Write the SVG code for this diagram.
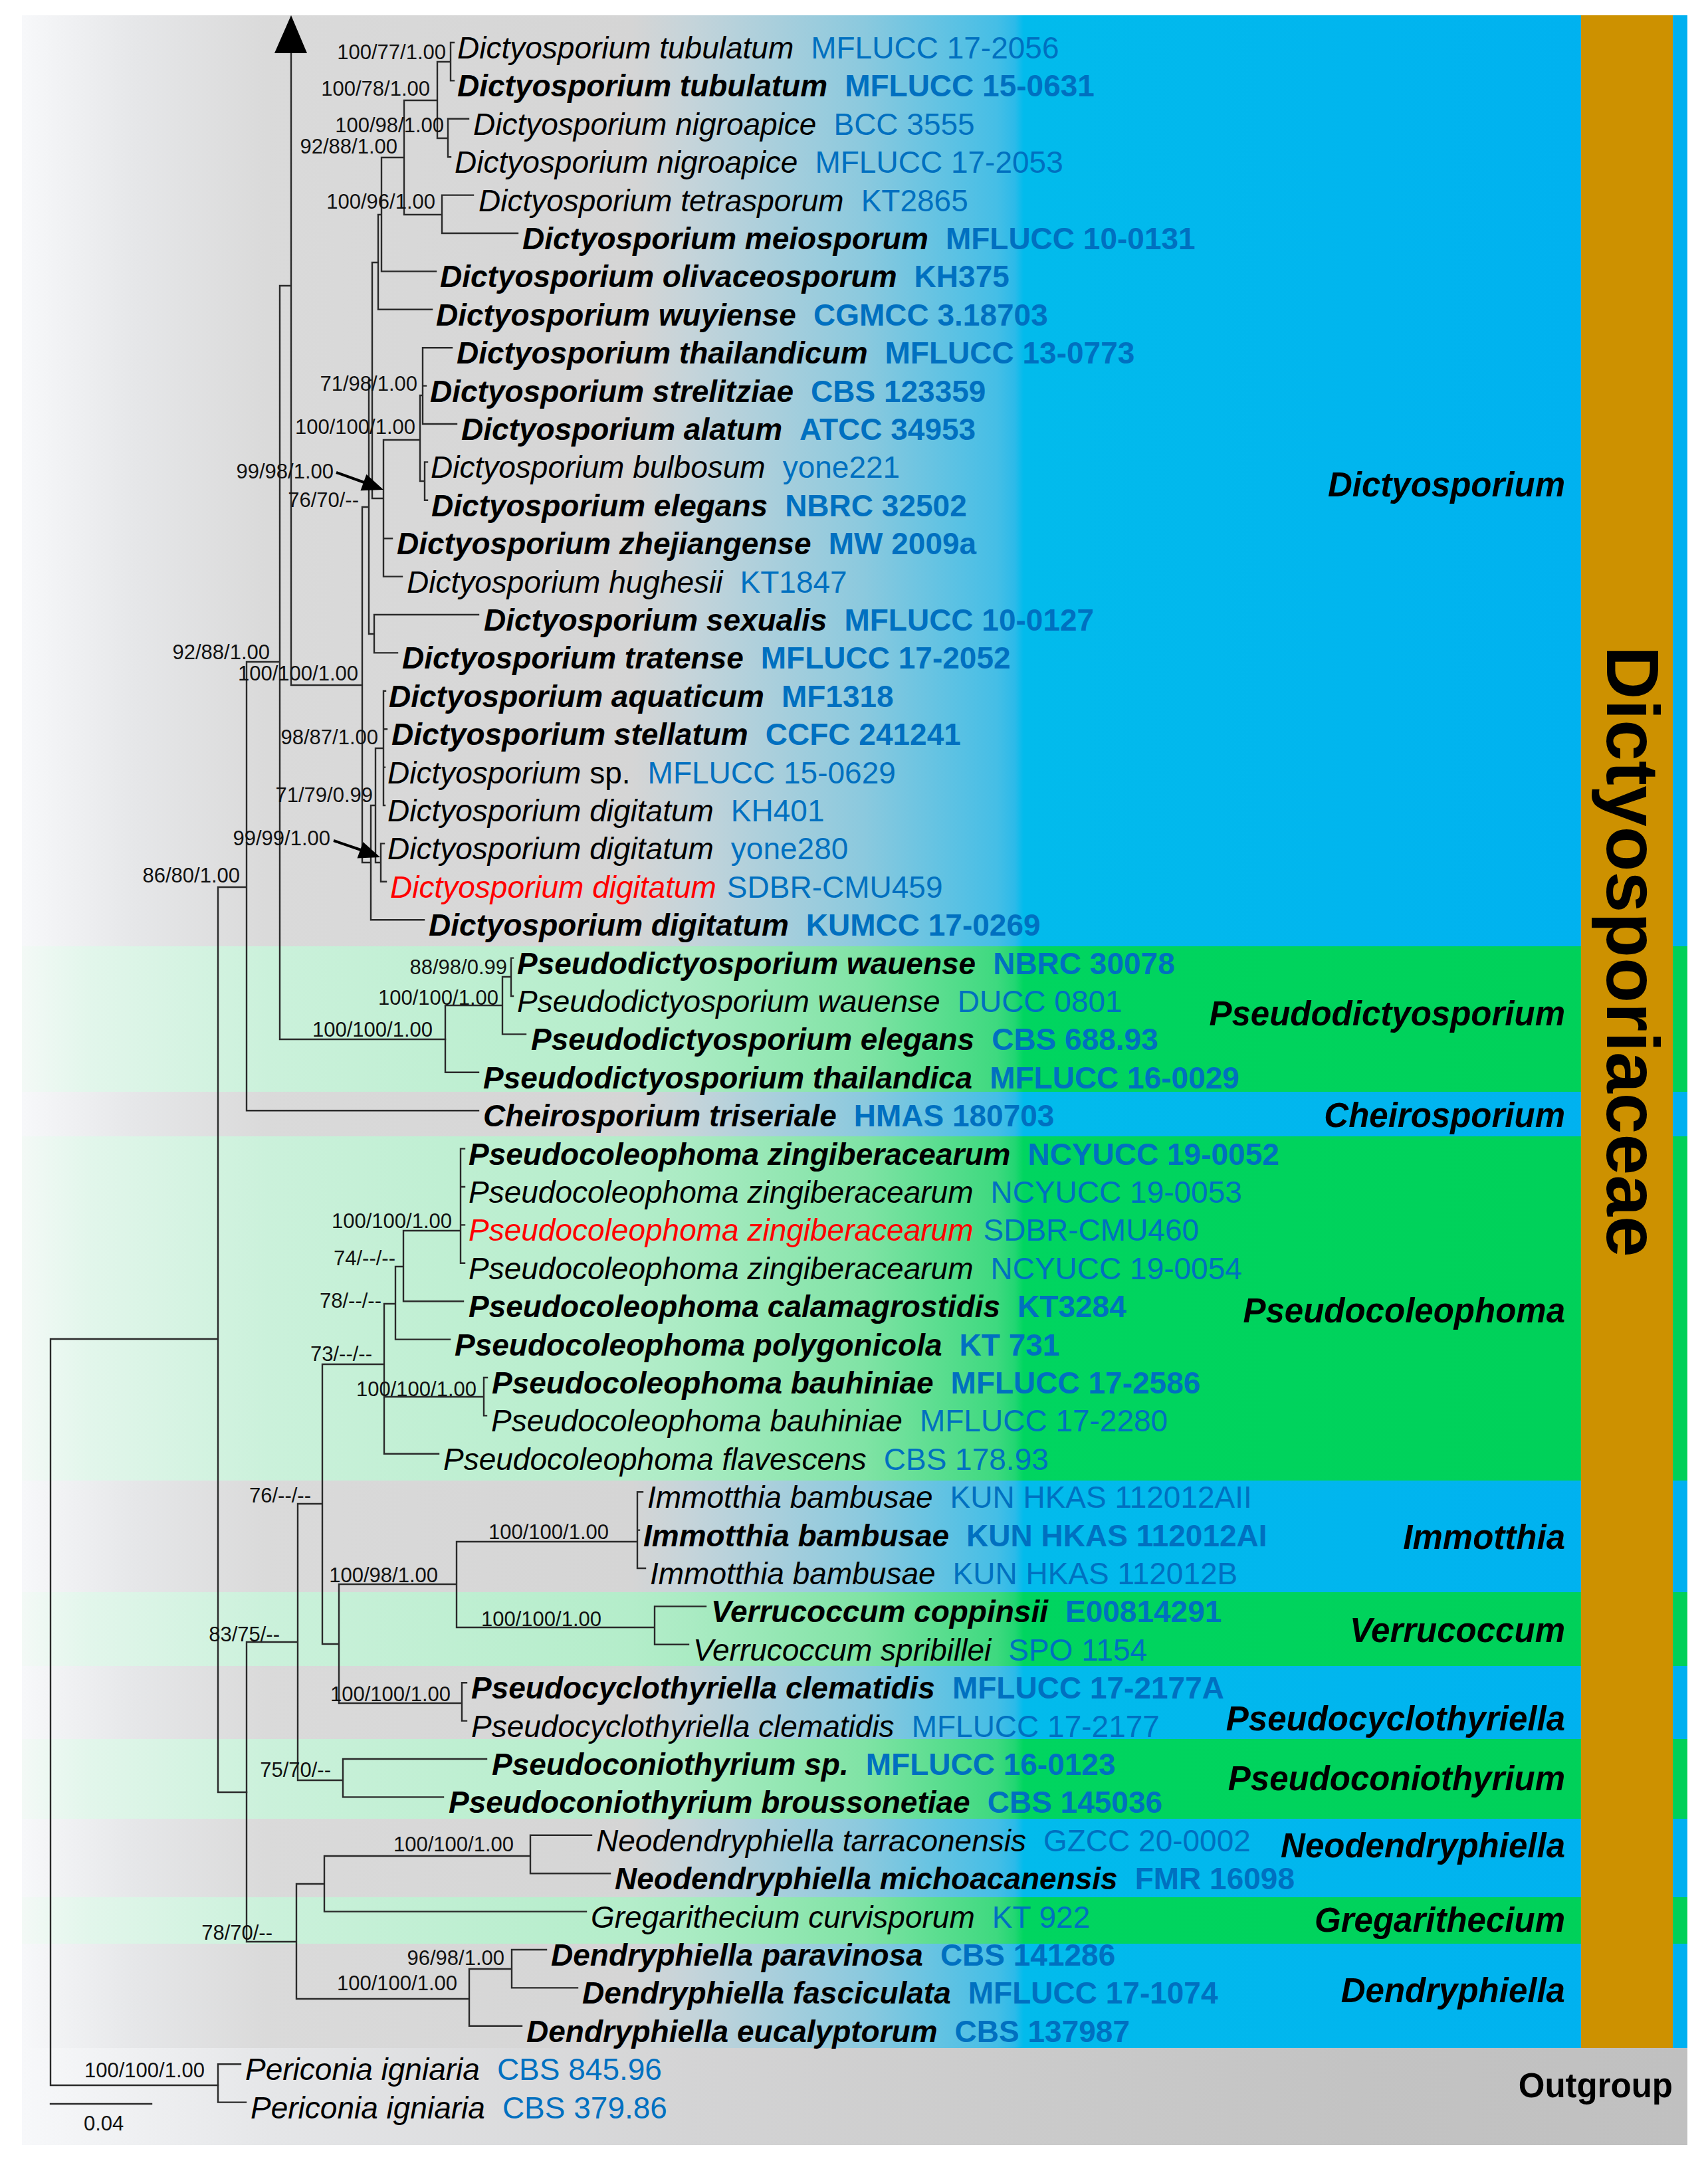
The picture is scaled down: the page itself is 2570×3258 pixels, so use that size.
<svg xmlns="http://www.w3.org/2000/svg" width="2570" height="3258" viewBox="0 0 2570 3258">
<style>
text{font-family:"Liberation Sans",Arial,sans-serif}
.t{font-size:46px;font-style:italic;fill:#000}
.b{font-weight:bold}
.a{font-style:normal;fill:#0070C0}
.r{fill:#FF0000}
.n{font-style:normal}
.bs{font-size:31px;fill:#111;text-anchor:end}
.g{font-size:51px;font-weight:bold;font-style:italic;text-anchor:end;fill:#000}
.br{fill:none;stroke:#2a2a2a;stroke-width:2.4;stroke-linecap:square}
</style>
<defs>
<linearGradient id="gb" gradientUnits="userSpaceOnUse" x1="33" y1="0" x2="2539" y2="0">
<stop offset="0" stop-color="#f7f8fa"/><stop offset="0.0666" stop-color="#e6e7e9"/><stop offset="0.1465" stop-color="#dadada"/><stop offset="0.366" stop-color="#d5d5d5"/><stop offset="0.4018" stop-color="#c5d4da"/><stop offset="0.5056" stop-color="#8bc9de"/><stop offset="0.5854" stop-color="#45bee6"/><stop offset="0.5962" stop-color="#2cbae9"/><stop offset="0.6014" stop-color="#02bbec"/><stop offset="1" stop-color="#00b0f0"/>
</linearGradient>
<linearGradient id="gg" gradientUnits="userSpaceOnUse" x1="33" y1="0" x2="2539" y2="0">
<stop offset="0" stop-color="#f3f9f6"/><stop offset="0.04" stop-color="#e2f6eb"/><stop offset="0.1465" stop-color="#cbf1db"/><stop offset="0.366" stop-color="#b4edca"/><stop offset="0.4018" stop-color="#aaebc3"/><stop offset="0.5056" stop-color="#80e3a5"/><stop offset="0.5854" stop-color="#3ed97f"/><stop offset="0.5962" stop-color="#22d672"/><stop offset="0.6014" stop-color="#00d560"/><stop offset="1" stop-color="#00d058"/>
</linearGradient>
<linearGradient id="go" gradientUnits="userSpaceOnUse" x1="33" y1="0" x2="2539" y2="0">
<stop offset="0" stop-color="#f7f8fa"/><stop offset="0.15" stop-color="#e5e6e8"/><stop offset="0.4" stop-color="#d4d4d5"/><stop offset="0.6" stop-color="#cbcbcb"/><stop offset="0.8" stop-color="#c3c3c3"/><stop offset="1" stop-color="#c0c0c0"/>
</linearGradient>
</defs>
<rect width="2570" height="3258" fill="#ffffff"/>
<g id="bands">
<rect x="33" y="23" width="2506" height="1401" fill="url(#gb)"/>
<rect x="33" y="1424" width="2506" height="219" fill="url(#gg)"/>
<rect x="33" y="1643" width="2506" height="67" fill="url(#gb)"/>
<rect x="33" y="1710" width="2506" height="518" fill="url(#gg)"/>
<rect x="33" y="2228" width="2506" height="168" fill="url(#gb)"/>
<rect x="33" y="2396" width="2506" height="111" fill="url(#gg)"/>
<rect x="33" y="2507" width="2506" height="110" fill="url(#gb)"/>
<rect x="33" y="2617" width="2506" height="120" fill="url(#gg)"/>
<rect x="33" y="2737" width="2506" height="118" fill="url(#gb)"/>
<rect x="33" y="2855" width="2506" height="70" fill="url(#gg)"/>
<rect x="33" y="2925" width="2506" height="157" fill="url(#gb)"/>
<rect x="33" y="3082" width="2506" height="146" fill="url(#go)"/>
</g>
<g id="family-bar">
<rect x="2379" y="23" width="138" height="3059" fill="#cd9100"/>
<text transform="translate(2418,1432) rotate(90)" text-anchor="middle" font-size="111" font-weight="bold" fill="#000">Dictyosporiaceae</text>
</g>
<g id="genus-labels">
<text class="g" x="2355" y="747">Dictyosporium</text>
<text class="g" x="2355" y="1543">Pseudodictyosporium</text>
<text class="g" x="2355" y="1696">Cheirosporium</text>
<text class="g" x="2355" y="1990">Pseudocoleophoma</text>
<text class="g" x="2355" y="2331">Immotthia</text>
<text class="g" x="2355" y="2471">Verrucoccum</text>
<text class="g" x="2355" y="2604">Pseudocyclothyriella</text>
<text class="g" x="2355" y="2694">Pseudoconiothyrium</text>
<text class="g" x="2355" y="2795">Neodendryphiella</text>
<text class="g" x="2355" y="2907">Gregarithecium</text>
<text class="g" x="2355" y="3013">Dendryphiella</text>
<text x="2517" y="3156" font-size="51" font-weight="bold" text-anchor="end" fill="#000">Outgroup</text>
</g>
<g id="connectors">
<path class="br" d="M678,64V121.4M678,64H683M678,121.4H683
M658,93V208M658,93H678M658,208H674
M674,178.8V236.2M674,178.8H705M674,236.2H678
M608,151V323M608,151H658M608,323H665
M665,293.6V351M665,293.6H712M665,351H779
M574,237V408.4M574,237H608M574,408.4H656
M569,323V465.8M569,323H574M569,465.8H650
M560,395V750M560,395H569M560,750H577
M577,662V867.6M577,662H632M577,810.2H590M577,867.6H605
M632,595V724M632,595H636M632,724H639
M636,523.2V638M636,523.2H680M636,580.6H641M636,638H687
M639,695.4V752.8M639,695.4H643M639,752.8H643
M555,572V954M555,572H560M555,954H563
M563,925V982.4M563,925H720M563,982.4H598
M545,763V1298M545,763H555M545,1298H558
M558,1212V1384.2M558,1212H565M558,1384.2H638
M565,1126V1298M565,1126H577M565,1298H573
M577,1039.8V1212M577,1039.8H580M577,1097.2H582M577,1154.6H579M577,1212H579
M573,1269.4V1326.8M573,1269.4H578M573,1326.8H581
M438,80V1031M438,1031H545
M421,430V1564M421,430H438M421,1564H670
M371,996V1671.2M371,996H421M371,1671.2H720
M328,1335V2697M328,1335H371M328,2697H371
M76,2015V3138M76,2015H328M76,3138H328"/>
<path class="br" d="M670,1513V1613.8M670,1513H756M670,1613.8H720
M756,1470V1556.4M756,1470H769M756,1556.4H791
M769,1441.6V1499M769,1441.6H772M769,1499H772"/>
<path class="br" d="M693,1728.6V1900.8M693,1728.6H699M693,1786H699M693,1843.4H699M693,1900.8H699
M607,1852V1958.2M607,1852H693M607,1958.2H697
M595,1906V2015.6M595,1906H607M595,2015.6H677
M578,1962V2187.8M578,1962H595M578,2102H728M578,2187.8H660
M728,2073V2130.4M728,2073H733M728,2130.4H732
M485,2053V2474M485,2053H578M485,2474H510
M510,2384V2563M510,2384H687M510,2563H695
M687,2320V2449M687,2320H959M687,2449H985
M959,2245.2V2360M959,2245.2H967M959,2302.6H962M959,2360H971
M985,2417.4V2474.8M985,2417.4H1062M985,2474.8H1036
M695,2532.2V2589.6M695,2532.2H702M695,2589.6H702
M448,2263V2679M448,2263H485M448,2679H516
M516,2647V2704.4M516,2647H732M516,2704.4H667
M371,2471V2922M371,2471H448M371,2922H446
M446,2835V3008M446,2835H488M446,3008H706
M488,2793V2876.6M488,2793H798M488,2876.6H882
M798,2761.8V2819.2M798,2761.8H890M798,2819.2H918
M706,2963V3048.8M706,2963H770M706,3048.8H785
M770,2934V2991.4M770,2934H822M770,2991.4H869
M328,3106.2V3163.6M328,3106.2H362M328,3163.6H370"/>
<path class="br" d="M76,3166H228"/>
<polygon points="438,23 413,80 462,80" fill="#000"/>
<line x1="506" y1="711" x2="548" y2="726" stroke="#000" stroke-width="4"/>
<polygon points="577,737 542.5,738.2 551.4,713.8" fill="#000"/>
<line x1="502" y1="1265" x2="543" y2="1279" stroke="#000" stroke-width="4"/>
<polygon points="572,1290 537.5,1291.4 546.3,1267" fill="#000"/>
</g>
<g id="support-labels">
<text class="bs" x="671" y="89">100/77/1.00</text>
<text class="bs" x="647" y="144">100/78/1.00</text>
<text class="bs" x="668" y="199">100/98/1.00</text>
<text class="bs" x="598" y="231">92/88/1.00</text>
<text class="bs" x="655" y="314">100/96/1.00</text>
<text class="bs" x="628" y="588">71/98/1.00</text>
<text class="bs" x="625" y="653">100/100/1.00</text>
<text class="bs" x="502" y="720">99/98/1.00</text>
<text class="bs" x="540" y="763">76/70/--</text>
<text class="bs" x="406" y="992">92/88/1.00</text>
<text class="bs" x="539" y="1024">100/100/1.00</text>
<text class="bs" x="569" y="1120">98/87/1.00</text>
<text class="bs" x="561" y="1207">71/79/0.99</text>
<text class="bs" x="497" y="1272">99/99/1.00</text>
<text class="bs" x="361" y="1328">86/80/1.00</text>
<text class="bs" x="763" y="1466">88/98/0.99</text>
<text class="bs" x="750" y="1512">100/100/1.00</text>
<text class="bs" x="651" y="1560">100/100/1.00</text>
<text class="bs" x="680" y="1848">100/100/1.00</text>
<text class="bs" x="595" y="1904">74/--/--</text>
<text class="bs" x="574" y="1968">78/--/--</text>
<text class="bs" x="560" y="2048">73/--/--</text>
<text class="bs" x="717" y="2101">100/100/1.00</text>
<text class="bs" x="468" y="2261">76/--/--</text>
<text class="bs" x="916" y="2316">100/100/1.00</text>
<text class="bs" x="659" y="2381">100/98/1.00</text>
<text class="bs" x="905" y="2447">100/100/1.00</text>
<text class="bs" x="421" y="2470">83/75/--</text>
<text class="bs" x="678" y="2560">100/100/1.00</text>
<text class="bs" x="498" y="2674">75/70/--</text>
<text class="bs" x="773" y="2786">100/100/1.00</text>
<text class="bs" x="410" y="2919">78/70/--</text>
<text class="bs" x="759" y="2957">96/98/1.00</text>
<text class="bs" x="688" y="2995">100/100/1.00</text>
<text class="bs" x="308" y="3126">100/100/1.00</text>
<text x="126" y="3206" font-size="31" fill="#111">0.04</text>
</g>
<g id="taxa">
<g id="tx00"><text class="t" x="688" y="88">Dictyosporium tubulatum<tspan class="a" dx="26">MFLUCC 17-2056</tspan></text></g>
<g id="tx01"><text class="t b" x="688" y="145">Dictyosporium tubulatum<tspan class="a" dx="26">MFLUCC 15-0631</tspan></text></g>
<g id="tx02"><text class="t" x="712" y="203">Dictyosporium nigroapice<tspan class="a" dx="26">BCC 3555</tspan></text></g>
<g id="tx03"><text class="t" x="684" y="260">Dictyosporium nigroapice<tspan class="a" dx="26">MFLUCC 17-2053</tspan></text></g>
<g id="tx04"><text class="t" x="720" y="318">Dictyosporium tetrasporum<tspan class="a" dx="26">KT2865</tspan></text></g>
<g id="tx05"><text class="t b" x="786" y="375">Dictyosporium meiosporum<tspan class="a" dx="26">MFLUCC 10-0131</tspan></text></g>
<g id="tx06"><text class="t b" x="662" y="432">Dictyosporium olivaceosporum<tspan class="a" dx="26">KH375</tspan></text></g>
<g id="tx07"><text class="t b" x="656" y="490">Dictyosporium wuyiense<tspan class="a" dx="26">CGMCC 3.18703</tspan></text></g>
<g id="tx08"><text class="t b" x="687" y="547">Dictyosporium thailandicum<tspan class="a" dx="26">MFLUCC 13-0773</tspan></text></g>
<g id="tx09"><text class="t b" x="647" y="605">Dictyosporium strelitziae<tspan class="a" dx="26">CBS 123359</tspan></text></g>
<g id="tx10"><text class="t b" x="694" y="662">Dictyosporium alatum<tspan class="a" dx="26">ATCC 34953</tspan></text></g>
<g id="tx11"><text class="t" x="648" y="719">Dictyosporium bulbosum<tspan class="a" dx="26">yone221</tspan></text></g>
<g id="tx12"><text class="t b" x="649" y="777">Dictyosporium elegans<tspan class="a" dx="26">NBRC 32502</tspan></text></g>
<g id="tx13"><text class="t b" x="597" y="834">Dictyosporium zhejiangense<tspan class="a" dx="26">MW 2009a</tspan></text></g>
<g id="tx14"><text class="t" x="612" y="892">Dictyosporium hughesii<tspan class="a" dx="26">KT1847</tspan></text></g>
<g id="tx15"><text class="t b" x="728" y="949">Dictyosporium sexualis<tspan class="a" dx="26">MFLUCC 10-0127</tspan></text></g>
<g id="tx16"><text class="t b" x="605" y="1006">Dictyosporium tratense<tspan class="a" dx="26">MFLUCC 17-2052</tspan></text></g>
<g id="tx17"><text class="t b" x="585" y="1064">Dictyosporium aquaticum<tspan class="a" dx="26">MF1318</tspan></text></g>
<g id="tx18"><text class="t b" x="589" y="1121">Dictyosporium stellatum<tspan class="a" dx="26">CCFC 241241</tspan></text></g>
<g id="tx19"><text class="t" x="583" y="1179">Dictyosporium<tspan class="n"> sp.</tspan><tspan class="a" dx="26">MFLUCC 15-0629</tspan></text></g>
<g id="tx20"><text class="t" x="583" y="1236">Dictyosporium digitatum<tspan class="a" dx="26">KH401</tspan></text></g>
<g id="tx21"><text class="t" x="583" y="1293">Dictyosporium digitatum<tspan class="a" dx="26">yone280</tspan></text></g>
<g id="tx22"><text class="t r" x="587" y="1351">Dictyosporium digitatum<tspan class="a" dx="16">SDBR-CMU459</tspan></text></g>
<g id="tx23"><text class="t b" x="645" y="1408">Dictyosporium digitatum<tspan class="a" dx="26">KUMCC 17-0269</tspan></text></g>
<g id="tx24"><text class="t b" x="778" y="1466">Pseudodictyosporium wauense<tspan class="a" dx="26">NBRC 30078</tspan></text></g>
<g id="tx25"><text class="t" x="778" y="1523">Pseudodictyosporium wauense<tspan class="a" dx="26">DUCC 0801</tspan></text></g>
<g id="tx26"><text class="t b" x="799" y="1580">Pseudodictyosporium elegans<tspan class="a" dx="26">CBS 688.93</tspan></text></g>
<g id="tx27"><text class="t b" x="727" y="1638">Pseudodictyosporium thailandica<tspan class="a" dx="26">MFLUCC 16-0029</tspan></text></g>
<g id="tx28"><text class="t b" x="727" y="1695">Cheirosporium triseriale<tspan class="a" dx="26">HMAS 180703</tspan></text></g>
<g id="tx29"><text class="t b" x="705" y="1753">Pseudocoleophoma zingiberacearum<tspan class="a" dx="26">NCYUCC 19-0052</tspan></text></g>
<g id="tx30"><text class="t" x="705" y="1810">Pseudocoleophoma zingiberacearum<tspan class="a" dx="26">NCYUCC 19-0053</tspan></text></g>
<g id="tx31"><text class="t r" x="705" y="1867">Pseudocoleophoma zingiberacearum<tspan class="a" dx="15">SDBR-CMU460</tspan></text></g>
<g id="tx32"><text class="t" x="705" y="1925">Pseudocoleophoma zingiberacearum<tspan class="a" dx="26">NCYUCC 19-0054</tspan></text></g>
<g id="tx33"><text class="t b" x="705" y="1982">Pseudocoleophoma calamagrostidis<tspan class="a" dx="26">KT3284</tspan></text></g>
<g id="tx34"><text class="t b" x="684" y="2040">Pseudocoleophoma polygonicola<tspan class="a" dx="26">KT 731</tspan></text></g>
<g id="tx35"><text class="t b" x="740" y="2097">Pseudocoleophoma bauhiniae<tspan class="a" dx="26">MFLUCC 17-2586</tspan></text></g>
<g id="tx36"><text class="t" x="739" y="2154">Pseudocoleophoma bauhiniae<tspan class="a" dx="26">MFLUCC 17-2280</tspan></text></g>
<g id="tx37"><text class="t" x="667" y="2212">Pseudocoleophoma flavescens<tspan class="a" dx="26">CBS 178.93</tspan></text></g>
<g id="tx38"><text class="t" x="974" y="2269">Immotthia bambusae<tspan class="a" dx="26">KUN HKAS 112012AII</tspan></text></g>
<g id="tx39"><text class="t b" x="968" y="2327">Immotthia bambusae<tspan class="a" dx="26">KUN HKAS 112012AI</tspan></text></g>
<g id="tx40"><text class="t" x="978" y="2384">Immotthia bambusae<tspan class="a" dx="26">KUN HKAS 112012B</tspan></text></g>
<g id="tx41"><text class="t b" x="1070" y="2441">Verrucoccum coppinsii<tspan class="a" dx="26">E00814291</tspan></text></g>
<g id="tx42"><text class="t" x="1043" y="2499">Verrucoccum spribillei<tspan class="a" dx="26">SPO 1154</tspan></text></g>
<g id="tx43"><text class="t b" x="709" y="2556">Pseudocyclothyriella clematidis<tspan class="a" dx="26">MFLUCC 17-2177A</tspan></text></g>
<g id="tx44"><text class="t" x="709" y="2614">Pseudocyclothyriella clematidis<tspan class="a" dx="26">MFLUCC 17-2177</tspan></text></g>
<g id="tx45"><text class="t b" x="740" y="2671">Pseudoconiothyrium sp.<tspan class="a" dx="26">MFLUCC 16-0123</tspan></text></g>
<g id="tx46"><text class="t b" x="675" y="2728">Pseudoconiothyrium broussonetiae<tspan class="a" dx="26">CBS 145036</tspan></text></g>
<g id="tx47"><text class="t" x="897" y="2786">Neodendryphiella tarraconensis<tspan class="a" dx="26">GZCC 20-0002</tspan></text></g>
<g id="tx48"><text class="t b" x="925" y="2843">Neodendryphiella michoacanensis<tspan class="a" dx="26">FMR 16098</tspan></text></g>
<g id="tx49"><text class="t" x="889" y="2901">Gregarithecium curvisporum<tspan class="a" dx="26">KT 922</tspan></text></g>
<g id="tx50"><text class="t b" x="829" y="2958">Dendryphiella paravinosa<tspan class="a" dx="26">CBS 141286</tspan></text></g>
<g id="tx51"><text class="t b" x="876" y="3015">Dendryphiella fasciculata<tspan class="a" dx="26">MFLUCC 17-1074</tspan></text></g>
<g id="tx52"><text class="t b" x="792" y="3073">Dendryphiella eucalyptorum<tspan class="a" dx="26">CBS 137987</tspan></text></g>
<g id="tx53"><text class="t" x="369" y="3130">Periconia igniaria<tspan class="a" dx="26">CBS 845.96</tspan></text></g>
<g id="tx54"><text class="t" x="377" y="3188">Periconia igniaria<tspan class="a" dx="26">CBS 379.86</tspan></text></g>
</g>
</svg>
